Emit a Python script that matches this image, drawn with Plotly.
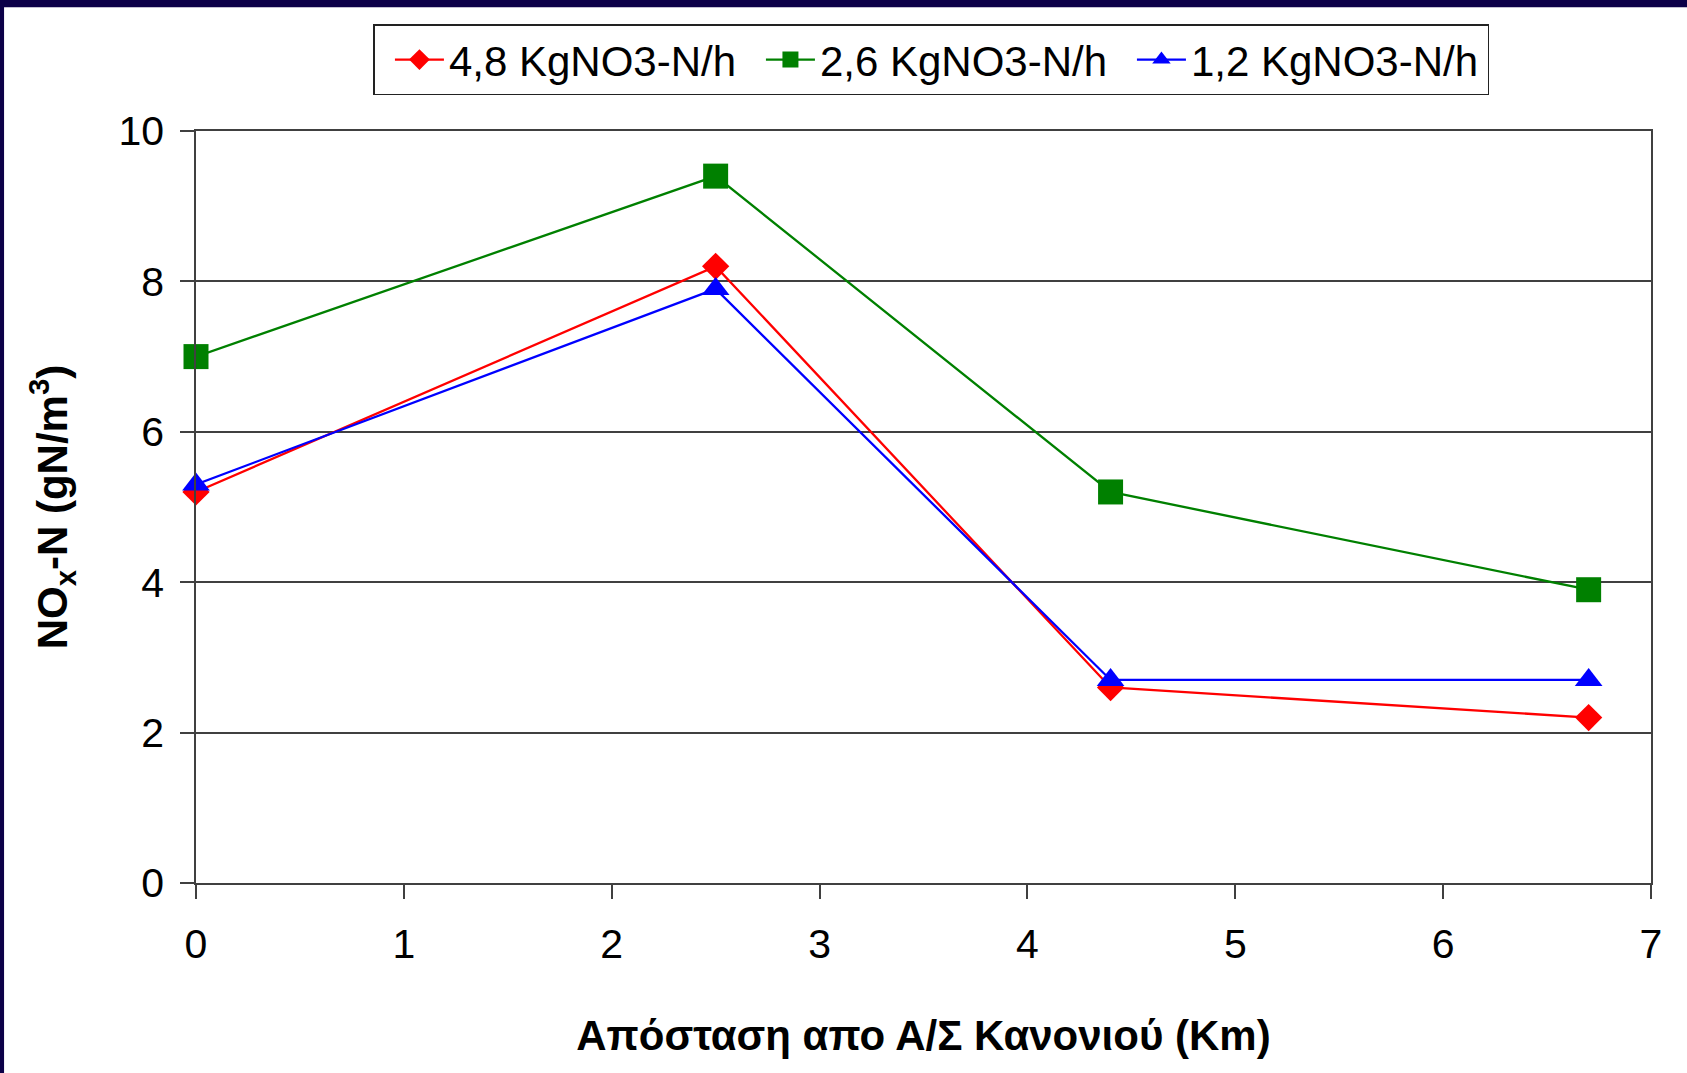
import plotly.graph_objects as go

# Distance from the treatment plant (km)
distance_km = [0, 2.5, 4.4, 6.7]

# NOx-N concentration (gN/m3) for each nitrate dosing rate
series_names = ["4,8 KgNO3-N/h", "2,6 KgNO3-N/h", "1,2 KgNO3-N/h"]
nox_48 = [5.2, 8.2, 2.6, 2.2]
nox_26 = [7.0, 9.4, 5.2, 3.9]
nox_12 = [5.3, 7.9, 2.7, 2.7]

x_ticks = [0, 1, 2, 3, 4, 5, 6, 7]
y_ticks = [0, 2, 4, 6, 8, 10]

W, H = 1687, 1073
L, R, T, B = 195.5, 36, 130.7, 190.3
pw, ph = W - L - R, H - T - B

FONT = "Arial, Liberation Sans, sans-serif"

styles = [
    dict(color="#FF0000", symbol="diamond", size=21),
    dict(color="#008000", symbol="square", size=25),
    dict(color="#0000FF", symbol="triangle-up", size=24),
]

fig = go.Figure()
for name, vals, st in zip(series_names, [nox_48, nox_26, nox_12], styles):
    fig.add_trace(go.Scatter(
        x=distance_km, y=vals, name=name, mode="lines+markers",
        line=dict(color=st["color"], width=2.3),
        marker=dict(color=st["color"], symbol=st["symbol"], size=st["size"],
                    line=dict(width=0)),
        cliponaxis=False,
    ))


def px_x(p):
    return (p - L) / pw


def px_y(p):
    return (H - B - p) / ph


navy = "#0c0048"
fig.add_shape(type="rect", xref="paper", yref="paper", layer="above",
              x0=px_x(-5), x1=px_x(W + 5), y0=px_y(7), y1=px_y(-5),
              fillcolor=navy, line=dict(width=0))
fig.add_shape(type="rect", xref="paper", yref="paper", layer="above",
              x0=px_x(-5), x1=px_x(3.5), y0=px_y(H + 5), y1=px_y(-5),
              fillcolor=navy, line=dict(width=0))

fig.update_layout(
    width=W, height=H,
    margin=dict(l=L, r=R, t=T, b=B, autoexpand=False),
    paper_bgcolor="white", plot_bgcolor="white",
    font=dict(family=FONT, color="black", size=40),
    showlegend=True,
    legend=dict(
        orientation="h", x=px_x(373), y=px_y(24), xanchor="left", yanchor="top",
        bordercolor="#222222", borderwidth=1.5, bgcolor="white",
        font=dict(size=42, family=FONT), itemwidth=49, indentation=15,
        entrywidth=292, entrywidthmode="pixels",
        tracegroupgap=0,
    ),
    xaxis=dict(
        range=[0, 7], tickvals=x_ticks, ticktext=[str(v) for v in x_ticks],
        showline=True, linecolor="#404040", linewidth=1.5, mirror=True,
        ticks="outside", ticklen=14, tickwidth=1.5, tickcolor="#404040",
        showgrid=False, zeroline=False,
        tickfont=dict(size=41), ticklabelstandoff=10,
        title=dict(text="<b>Απόσταση απο Α/Σ Κανονιού (Km)</b>",
                   font=dict(size=42), standoff=55),
    ),
    yaxis=dict(
        range=[0, 10], tickvals=y_ticks, ticktext=[str(v) for v in y_ticks],
        showline=True, linecolor="#404040", linewidth=1.5, mirror=True,
        ticks="outside", ticklen=14, tickwidth=1.5, tickcolor="#404040",
        showgrid=True, gridcolor="#404040", gridwidth=1.5, zeroline=False,
        tickfont=dict(size=41), ticklabelstandoff=8,
        title=dict(text="<b>NO<sub>x</sub>-N (gN/m<sup>3</sup>)</b>",
                   font=dict(size=42), standoff=38),
    ),
)

fig.write_html("out.html")
